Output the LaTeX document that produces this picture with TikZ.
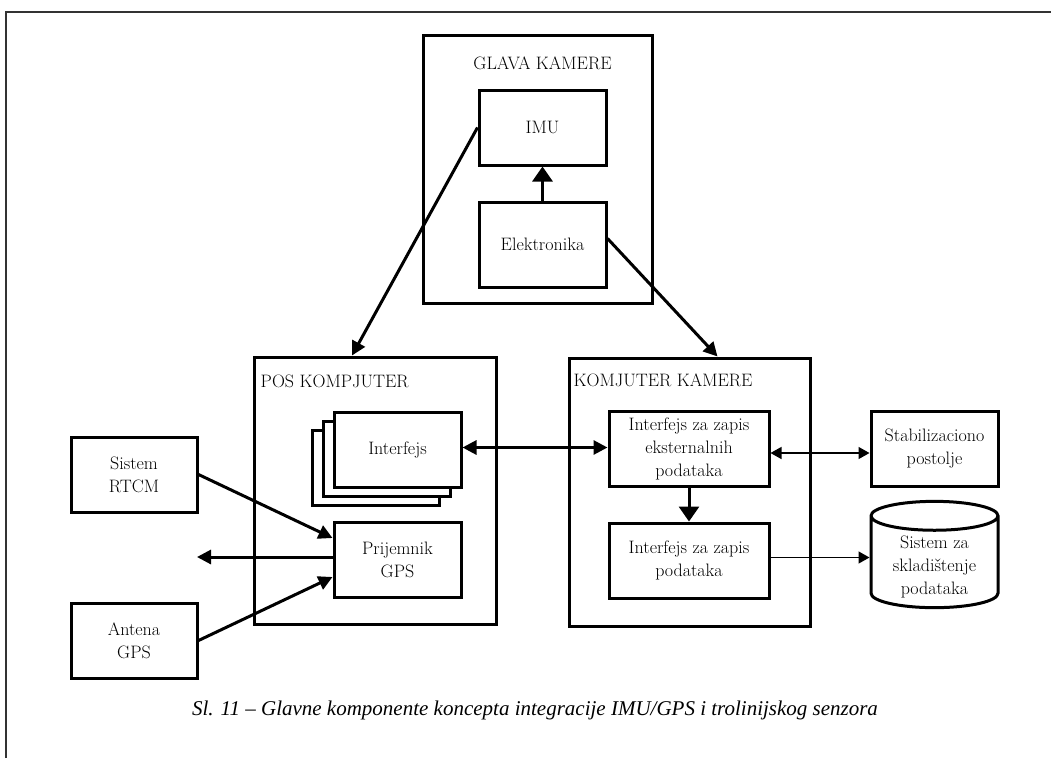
\documentclass[tikz,border=0pt]{standalone}
\usepackage{fontspec}
\newfontfamily\capfont{Liberation Serif}
\usetikzlibrary{arrows.meta,shapes.geometric}
\tikzset{
  box/.style={draw,line width=3pt,minimum width=127pt,minimum height=75pt,
    align=center,inner sep=2pt,fill=white},
  unit/.style={draw,line width=3pt},
  unitlabel/.style={anchor=west,inner sep=0pt},
  flow/.style={line width=3pt,-{Triangle[length=14pt,width=14pt]}},
  stem/.style={line width=3pt,-{Triangle[length=15pt,width=20pt]}},
  thinflow/.style={line width=1.4pt,-{Triangle[length=11pt,width=12pt]}},
  frame/.style={line width=1.5pt,draw=black!80},
}
\begin{document}
\begin{tikzpicture}[x=1pt,y=-1pt,font=\fontsize{18}{23}\selectfont]
  \useasboundingbox (0,0) rectangle (1051,758);
  \draw[frame] (6,758) -- (6,12) -- (1051,12);

  % glava kamere
  \node[unit,minimum width=229pt,minimum height=268pt] (glava) at (537.5,169) {};
  \node[inner sep=0pt] at (542.5,63) {GLAVA KAMERE};
  \node[box] (imu) at (542.5,127.5) {IMU};
  \node[box,minimum height=85pt] (elek) at (542.5,244.5) {Elektronika};

  % pos kompjuter
  \node[unit,minimum width=242pt,minimum height=267pt] (pos) at (375,490.5) {};
  \node[unitlabel] at ([xshift=8,yshift=-26]pos.north west) {POS KOMPJUTER};
  \node[box] (intf3) at (375.5,467.5) {};
  \node[box] (intf2) at (386.5,458.5) {};
  \node[box] (intf) at (397.5,449.5) {Interfejs};
  \node[box] (prij) at (397.5,560) {Prijemnik\\GPS};

  % komjuter kamere
  \node[unit,minimum width=241pt,minimum height=268pt] (kam) at (689.5,492) {};
  \node[unitlabel] at ([xshift=6,yshift=-24]kam.north west) {KOMJUTER KAMERE};
  \node[box,minimum width=160pt] (ext) at (689,449) {Interfejs za zapis\\eksternalnih\\podataka};
  \node[box,minimum width=160pt] (data) at (689,560.5) {Interfejs za zapis\\podataka};

  % okolina
  \node[box] (stab) at (934.5,449) {Stabilizaciono\\postolje};
  \node[draw,line width=3pt,cylinder,shape border rotate=90,aspect=0.38,align=center,
    minimum width=127pt,minimum height=101pt,font=\fontsize{15}{23}\selectfont,
    anchor=shape center] (cyl)
    at (934.5,554.5) {\phantom{Sistem za}\\\phantom{skladištenje}\\\phantom{podataka}};
  \node[align=center,inner sep=0pt] (cyltext) at ([yshift=-12]cyl.shape center)
    {Sistem za\\skladištenje\\podataka};
  \node[box,minimum width=126pt] (rtcm) at (134,474.5) {Sistem\\RTCM};
  \node[box,minimum width=126pt] (ant) at (134,640.5) {Antena\\GPS};
  \coordinate (out) at (197,557);

  % veze
  \draw[stem] (elek) -- (imu);
  \draw[flow] (imu.west) -- ([xshift=-23]pos.north);
  \draw[flow] ([yshift=6]elek.east) -- ([xshift=28]kam.north);
  \draw[flow,{Triangle[length=14pt,width=14pt]}-{Triangle[length=14pt,width=14pt]}]
    ([yshift=2]intf.east) -- ([yshift=2]intf.east -| ext.west);
  \draw[stem] (ext) -- (data);
  \draw[thinflow,{Triangle[length=11pt,width=12pt]}-{Triangle[length=11pt,width=12pt]}]
    ([yshift=-4]ext.east) -- ([yshift=-4]stab.west);
  \draw[thinflow] ([yshift=3]data.east) -- ([yshift=3]data.east -| cyl.west);
  \draw[flow] (rtcm.east) -- ([yshift=22]prij.west);
  \draw[flow] (ant.east) -- ([yshift=-17]prij.west);
  \draw[flow] ([yshift=3]prij.west) -- (out);

  \node[font=\capfont\itshape\fontsize{21}{25}\selectfont] (cap) at (535,710)
    {Sl. 11 – Glavne komponente koncepta integracije IMU/GPS i trolinijskog senzora};
\end{tikzpicture}
\end{document}
